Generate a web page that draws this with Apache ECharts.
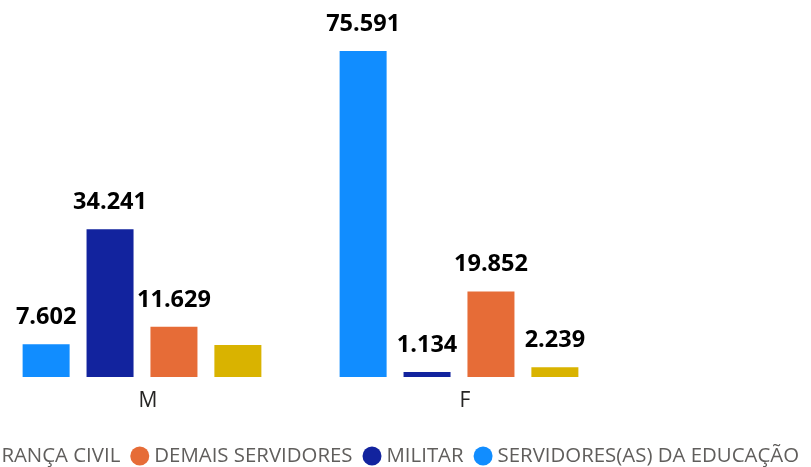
<!DOCTYPE html>
<html>
<head>
<meta charset="utf-8">
<script src="https://cdn.jsdelivr.net/npm/echarts@6/dist/echarts.min.js"></script>
<style>
  html, body { margin: 0; padding: 0; background: #fff; }
  #chart { width: 811px; height: 467px; }
</style>
</head>
<body>
<div id="chart"></div>
<script>
// categorias (sexo)
var categorias = ['M', 'F'];
// valores por série
var educacao = [7602, 75591];
var militar = [34241, 1134];
var demais = [11629, 19852];
var seguranca = [7400, 2239];
// ordem da legenda
var legendaOrdem = ['SEGURANÇA CIVIL', 'DEMAIS SERVIDORES', 'MILITAR', 'SERVIDORES(AS) DA EDUCAÇÃO'];

function fmt(v) {
    return String(v).replace(/\B(?=(\d{3})+(?!\d))/g, '.');
}

var labelStyle = {
    show: true,
    position: 'top',
    distance: 15,
    fontFamily: 'Open Sans',
    fontWeight: 'bold',
    fontSize: 23.5,
    color: '#000000',
    formatter: function (p) { return fmt(p.value); }
};

function serie(nome, cor, valores, semLabel) {
    return {
        name: nome,
        type: 'bar',
        barWidth: 47,
        barGap: '36%',
        itemStyle: { color: cor },
        label: labelStyle,
        data: valores.map(function (v, i) {
            // rótulo escondido onde não cabe
            if (semLabel && semLabel.indexOf(i) >= 0) {
                return { value: v, label: { show: false } };
            }
            return v;
        })
    };
}

var myChart = echarts.init(document.getElementById('chart'));
myChart.setOption({
    animation: false,
    legend: {
        data: legendaOrdem,
        bottom: -4,
        right: 7,
        width: 1100,
        icon: 'circle',
        itemWidth: 19,
        itemHeight: 19,
        itemGap: 10,
        textStyle: {
            fontFamily: 'Open Sans',
            fontSize: 20.4,
            color: '#605E5C'
        }
    },
    grid: {
        left: -16.5,
        width: 634,
        top: 32,
        bottom: 90,
        outerBoundsMode: 'none'
    },
    xAxis: {
        type: 'category',
        data: categorias,
        axisLine: { show: false },
        axisTick: { show: false },
        axisLabel: {
            fontFamily: 'Open Sans',
            fontSize: 21,
            color: '#252423',
            margin: 14,
            padding: [0, 0, 0, 12]
        }
    },
    yAxis: {
        type: 'value',
        min: 0,
        max: 80000,
        show: false,
        splitLine: { show: false }
    },
    series: [
        serie('SERVIDORES(AS) DA EDUCAÇÃO', '#118DFF', educacao),
        serie('MILITAR', '#12239E', militar),
        serie('DEMAIS SERVIDORES', '#E66C37', demais),
        serie('SEGURANÇA CIVIL', '#D9B300', seguranca, [0])
    ]
});
</script>
</body>
</html>
